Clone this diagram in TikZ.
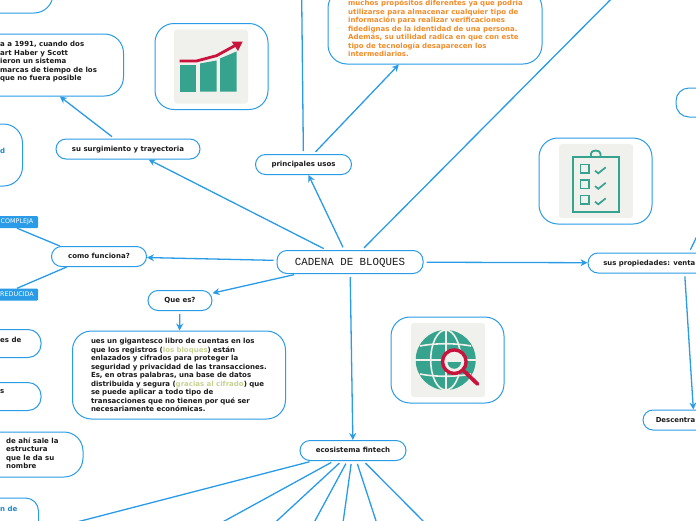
\documentclass[tikz,border=0pt]{standalone}
\usepackage{fontspec}
\setmainfont{DejaVu Sans}
\newfontfamily\monofam{Liberation Mono}
\usetikzlibrary{arrows.meta}
\definecolor{mapblue}{HTML}{2A9BE6}
\definecolor{inktext}{HTML}{1A1A1A}
\definecolor{linkblue}{HTML}{1B87C9}
\definecolor{softgreen}{HTML}{C5D18F}
\definecolor{mapgold}{HTML}{F28C28}
\definecolor{icongray}{HTML}{F0F0EC}
\definecolor{iconteal}{HTML}{35A38D}
\definecolor{iconred}{HTML}{C8143C}
\tikzset{
  bubble/.style={draw=mapblue,fill=white,line width=1pt,rounded corners=19pt,inner sep=0pt},
  pill/.style={bubble,rounded corners=10pt,font=\fontsize{7}{8.5}\bfseries\selectfont,text=inktext,text height=6pt,text depth=2pt},
  picbox/.style={bubble,minimum width=113pt,minimum height=86pt},
  txt/.style={anchor=north west,inner sep=0pt,align=left,font=\fontsize{7}{8.5}\bfseries\selectfont,text=inktext},
  tagbox/.style={fill=mapblue,text=white,inner sep=0pt,minimum width=42pt,minimum height=12pt,rounded corners=1pt,font=\fontsize{6.4}{7}\selectfont},
  conn/.style={draw=mapblue,line width=1.3pt,shorten <=3pt,-{Stealth[length=7pt,width=7pt]}},
  link/.style={draw=mapblue,line width=1.3pt}
}
\begin{document}
\begin{tikzpicture}[x=1pt,y=-1pt]
  \useasboundingbox (0,0) rectangle (696,520);
  \clip (0,0) rectangle (696,520);
  % central part
  \node[pill,font=\monofam\fontsize{10.8}{12}\selectfont,text height=8pt,text depth=1.6pt,minimum width=146pt,minimum height=23pt] (ntitle) at (350,262) {CADENA DE BLOQUES};
  \node[pill,minimum width=144pt,minimum height=20pt] (nsurg) at (128,149) {su surgimiento y trayectoria};
  \node[pill,minimum width=96pt,minimum height=20pt] (nusos) at (303.5,164.5) {principales usos};
  \node[pill,minimum width=95pt,minimum height=20pt] (ncomo) at (99,256.5) {como funciona?};
  \node[pill,minimum width=64pt,minimum height=20pt] (nque) at (180,300.5) {Que es?};
  \node[pill,minimum width=106pt,minimum height=20pt] (nfin) at (353,450.5) {ecosistema fintech};
  \node[pill,minimum width=192pt,minimum height=20pt] (nprop) at (684,263) {};
  \node[txt,anchor=east,font=\fontsize{6.9}{8.5}\bfseries\selectfont] (tprop) at (695.5,263.5) {sus propiedades: venta};
  \node[pill,minimum width=102pt,minimum height=20pt] (ndes) at (694,420) {};
  \node[txt,anchor=east,font=\fontsize{6.9}{8.5}\bfseries\selectfont] (tdes) at (695.5,420.5) {Descentra};
  % boxes with text
  \node[bubble,minimum width=213pt,minimum height=88pt,text width=176pt,align=left,font=\fontsize{7}{8.5}\bfseries\selectfont,text=inktext] (ndef) at (179,375)
    {ues un gigantesco libro de cuentas en los\\que los registros (\textcolor{softgreen}{los bloques}) están\\enlazados y cifrados para proteger la\\seguridad y privacidad de las transacciones.\\Es, en otras palabras, una base de datos\\distribuida y segura (\textcolor{softgreen}{gracias al cifrado}) que\\se puede aplicar a todo tipo de\\transacciones que no tienen por qué ser\\necesariamente económicas.};
  \node[bubble,minimum width=209pt,minimum height=62pt] (nhist) at (19,65) {};
  \node[txt] (thist) at (0,41) {a a 1991, cuando dos\\art Haber y Scott\\ieron un sistema\\marcas de tiempo de los\\que no fuera posible};
  \node[bubble,minimum width=214pt,minimum height=75pt] (nmuy) at (435,26.5) {};
  \node[txt,text=mapgold] (tmuy) at (348,0) {muchos propósitos diferentes ya que podría\\utilizarse para almacenar cualquier tipo de\\información para realizar verificaciones\\fidedignas de la identidad de una persona.\\Además, su utilidad radica en que con este\\tipo de tecnología desaparecen los\\intermediarios.};
  % boxes cut by the edge
  \node[bubble,minimum width=106pt,minimum height=46pt] (ntop) at (0,-10) {};
  \node[bubble,minimum width=45pt,minimum height=62pt] (nleft) at (0,155) {};
  \node[txt,anchor=west,text=linkblue] (tleft) at (0,151) {d};
  \node[bubble,rounded corners=13pt,minimum width=82pt,minimum height=28pt] (nla) at (0,343.5) {};
  \node[txt,anchor=west] (tla) at (0,339.5) {es de};
  \node[bubble,rounded corners=13pt,minimum width=82pt,minimum height=28pt] (nlb) at (0,396.5) {};
  \node[txt,anchor=west] (tlb) at (0,392) {s};
  \node[bubble,minimum width=166pt,minimum height=45pt] (nlc) at (0,454.5) {};
  \node[txt] (tlc) at (6,437.5) {de ahí sale la\\estructura\\que le da su\\nombre};
  \node[bubble,rounded corners=13pt,minimum width=77pt,minimum height=44pt] (nld) at (0,520) {};
  \node[txt,anchor=west,text=linkblue] (tld) at (0,508.5) {n de};
  \node[bubble,rounded corners=13pt,minimum width=108pt,minimum height=29pt] (nrt) at (730,102.5) {};
  \node[tagbox] (ncomp) at (17,222) {COMPLEJA};
  \node[tagbox] (nred) at (17,294.5) {REDUCIDA};
  % picture boxes
  \node[picbox] (nchart) at (211.5,66.5) {};
  \node[picbox] (nlist) at (595.5,181) {};
  \node[picbox] (nglobe) at (447.5,360) {};
  \foreach \x/\y in {174/29.5,559/144,411/323}
    \fill[icongray,rounded corners=3pt] (\x,\y) rectangle ++(74,74);
  % chart
  \fill[iconteal] (179.5,64.5) rectangle (196,91.5);
  \fill[iconteal] (200,63.5) -- (216.5,60.5) -- (216.5,91.5) -- (200,91.5) -- cycle;
  \fill[iconteal] (220,58.5) -- (236.5,51.5) -- (236.5,91.5) -- (220,91.5) -- cycle;
  \draw[iconred,line width=2.8pt] (179.5,61) -- (196.5,61) -- (216.5,55.7) -- (236,45);
  \fill[iconred] (242.7,41.5) -- (231.5,41.5) -- (238,51) -- cycle;
  % list
  \draw[iconteal,line width=2pt] (573,156.5) rectangle (618.5,211.5);
  \draw[iconteal,line width=1.8pt] (591,156) -- (591,153.5) arc[start angle=180,end angle=360,x radius=4.7,y radius=3] -- (600.4,156);
  \foreach \y in {0,15.5,31} {
    \draw[iconteal,line width=1.5pt] (580.5,164.5+\y) rectangle (589,173+\y);
    \draw[iconteal,line width=1.7pt] (595,170.7+\y) -- (598.3,173.3+\y) -- (605.7,167.3+\y);
  }
  % globe
  \fill[iconteal] (445.7,360) circle (30);
  \begin{scope}[draw=icongray,line width=1.6pt]
    \draw (445.7,330) -- (445.7,390);
    \draw (445.7,360) ellipse [x radius=15,y radius=30];
    \draw (415,360) -- (476,360);
    \draw (420,346) .. controls (435,343) and (456,343) .. (471,346);
    \draw (420,374) .. controls (435,377) and (456,377) .. (471,374);
  \end{scope}
  \fill[icongray] (454.3,361.7) circle (11);
  \fill[iconteal] (447.5,362) -- (461,362) arc[start angle=0,end angle=180,radius=6.75] -- cycle;
  \draw[iconred,line width=3.4pt] (454.3,361.7) circle (11.8);
  \draw[iconred,line width=3.8pt,line cap=round] (463.5,370.5) -- (477.5,384);
  % free ends
  \coordinate (cup) at (301.5,-20);
  \coordinate (cright) at (630,-20);
  \coordinate (cprop) at (712,205);
  \coordinate (ca) at (46,530);
  \coordinate (cb) at (208,530);
  \coordinate (cc) at (267,530);
  \coordinate (cd) at (310,530);
  \coordinate (ce) at (342,530);
  \coordinate (cf) at (379,530);
  \coordinate (cg) at (432,530);
  % connectors
  \foreach \from/\to in {ntitle/nsurg,ntitle/nusos,ntitle/ncomo,ntitle/nque,ntitle/nfin,ntitle/nprop,ntitle/cright,nsurg/nhist,nusos/nmuy,nusos/cup,nque/ndef,nprop/ndes,nprop/cprop,nfin/ca,nfin/cb,nfin/cc,nfin/cd,nfin/ce,nfin/cf,nfin/cg}
    \draw[conn] (\from) -- (\to);
  \draw[link] (ncomo.165.6) -- (ncomp.south);
  \draw[link] (ncomo.198) -- (nred.north);
\end{tikzpicture}
\end{document}
